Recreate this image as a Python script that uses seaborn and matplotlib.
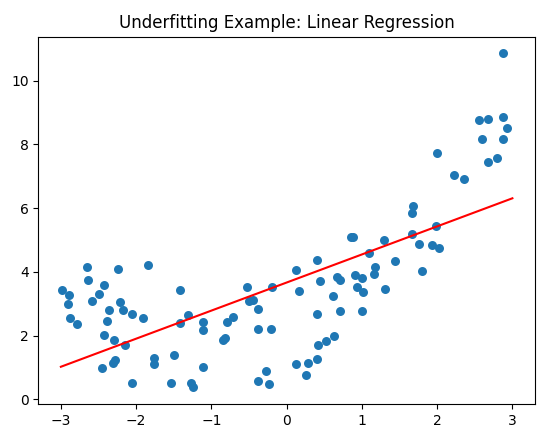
import matplotlib
matplotlib.use('Agg')
import matplotlib.pyplot as plt
import seaborn as sns
import numpy as np
import pandas as pd

# points
x_vals = [-2.99, -2.89, -2.90, -2.88, -2.78, -2.65, -2.64, -2.58, -2.49, -2.43,
          -2.36, -2.39, -2.43, -2.30, -2.15, -2.45, -2.31, -2.28, -2.24, -2.22,
          -2.18, -2.05, -1.91, -2.06, -1.84, -1.76, -1.76, -1.49, -1.54, -1.42,
          -1.31, -1.42, -1.27, -1.24, -1.11, -1.11, -1.11, -0.79, -0.71, -0.84,
          -0.82, -0.52, -0.50, -0.45, -0.38, -0.38, -0.21, -0.19, -0.38, -0.27,
          -0.23, 0.13, 0.17, 0.13, 0.26, 0.28, 0.40, 0.40, 0.45, 0.41,
          0.42, 0.52, 0.63, 0.61, 0.67, 0.71, 0.71, 0.91, 1.00, 0.93,
          1.02, 1.00, 1.09, 1.18, 1.16, 0.85, 0.88, 1.68, 1.66, 1.67,
          1.76, 1.80, 1.93, 1.44, 1.29, 1.31, 2.88, 2.56, 2.67, 2.87,
          2.93, 2.59, 2.87, 2.68, 2.79, 2.00, 2.23, 2.36, 1.98, 2.03]
y_vals = [3.44, 3.26, 3.00, 2.55, 2.36, 4.15, 3.74, 3.09, 3.29, 3.59,
          2.81, 2.47, 2.02, 1.86, 1.71, 0.97, 1.15, 1.23, 4.08, 3.05,
          2.81, 2.69, 2.55, 0.52, 4.21, 1.30, 1.11, 1.40, 0.52, 3.44,
          2.66, 2.40, 0.50, 0.37, 2.42, 2.16, 1.00, 2.43, 2.58, 1.87,
          1.91, 3.53, 3.09, 3.12, 2.84, 2.22, 2.19, 3.53, 0.58, 0.90,
          0.49, 4.06, 3.41, 1.11, 0.75, 1.15, 1.25, 4.36, 3.71, 2.68,
          1.70, 1.84, 1.99, 3.24, 3.85, 3.74, 2.78, 3.91, 3.80, 3.53,
          3.36, 2.78, 4.58, 4.15, 3.92, 5.10, 5.10, 6.06, 5.86, 5.19,
          4.87, 4.04, 4.84, 4.34, 4.99, 3.46, 10.86, 8.77, 8.80, 8.86,
          8.52, 8.18, 8.18, 7.46, 7.56, 7.73, 7.05, 6.90, 5.44, 4.74]

df = pd.DataFrame({"x": x_vals, "y": y_vals})

# linear fit, like the LinearRegression in the original
slope, intercept = np.polyfit(df["x"], df["y"], 1)
x_line = np.linspace(-3, 3, 100)
line_df = pd.DataFrame({"x": x_line, "y": slope * x_line + intercept})

fig, ax = plt.subplots(figsize=(5.47, 4.36))
fig.subplots_adjust(left=0.07, right=0.978, top=0.916, bottom=0.073)

sns.scatterplot(data=df, x="x", y="y", color="#1f77b4", s=42, linewidth=0, ax=ax)
sns.lineplot(data=line_df, x="x", y="y", color="red", ax=ax)

ax.set_xlabel("")
ax.set_ylabel("")
ax.set_title("Underfitting Example: Linear Regression")
plt.savefig("out.png", dpi=100)
plt.close()
